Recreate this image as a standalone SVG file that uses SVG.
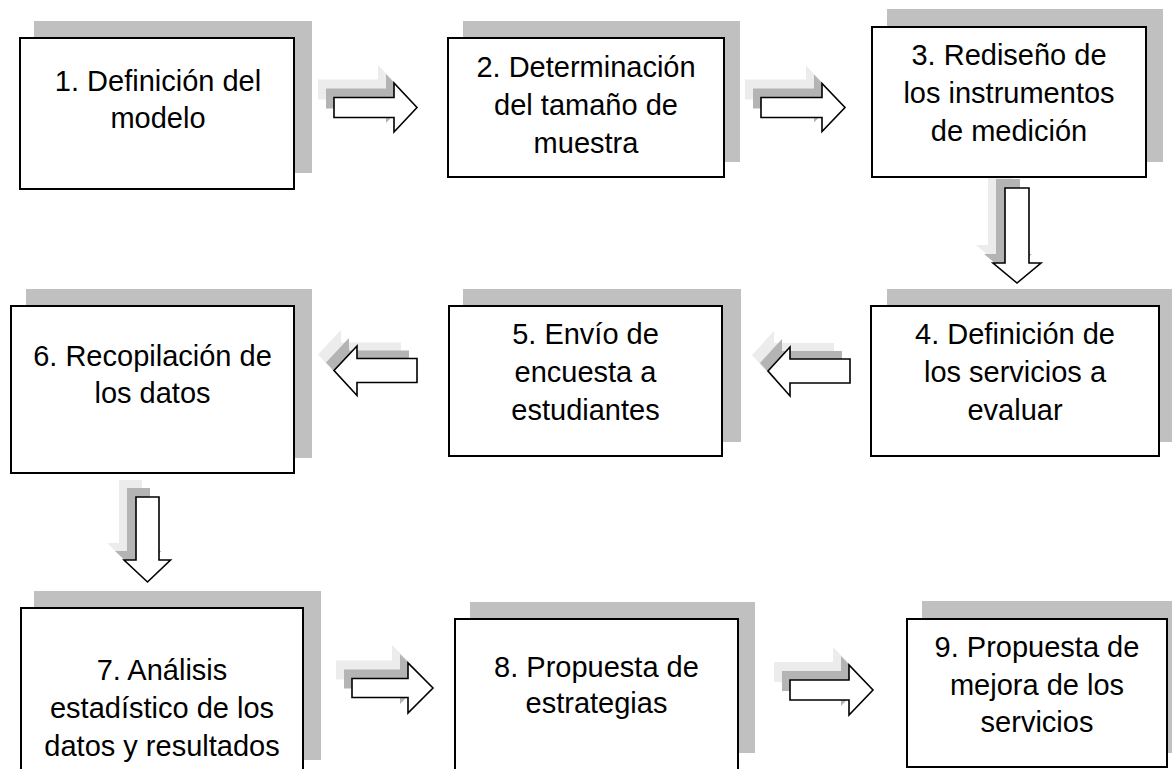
<svg xmlns="http://www.w3.org/2000/svg" xmlns:xlink="http://www.w3.org/1999/xlink" width="1172" height="769" viewBox="0 0 1172 769">
<style>
.shadow{fill:#c0c0c0;stroke:none}
.box{fill:#ffffff;stroke:#000000;stroke-width:2}
.lbl{font-family:"Liberation Sans",Arial,sans-serif;font-size:29px;fill:#000000;text-anchor:middle}
.sh1{fill:#ececec;stroke:none}
.sh2{fill:#b4b4b4;stroke:none}
.arr{fill:#ffffff;stroke:#000000;stroke-width:1.6;stroke-linejoin:miter}
</style>
<defs>
<path id="a1" d="M334,97.5 H394 V83 L417,107.5 L394,132 V117.5 H334 Z"/>
<path id="a2" d="M761,97.5 H822 V83.5 L845,107.5 L822,131.5 V117.5 H761 Z"/>
<path id="d1" d="M1005,188 H1029 V263 H1041 L1017,283 L993,263 H1005 Z"/>
<path id="a5" d="M850,359 H790 V347 L768,371 L790,396 V383 H850 Z"/>
<path id="a6" d="M417,358.5 H357 V346 L334,370.5 L357,395.5 V382.5 H417 Z"/>
<path id="d2" d="M136,497 H159 V560 H170.5 L147.5,582 L124,560 H136 Z"/>
<path id="a7" d="M352,678.5 H408 V663 L433,688 L408,713 V697.5 H352 Z"/>
<path id="a8" d="M790,680 H849 V665 L873,690 L849,715 V700 H790 Z"/>
</defs>
<rect width="1172" height="769" fill="#ffffff"/>
<g id="connectors">
<g id="c1-2"><use xlink:href="#a1" class="sh1" transform="translate(-16,-18)"/><use xlink:href="#a1" class="sh2" transform="translate(-8,-9)"/><use xlink:href="#a1" class="arr"/></g>
<g id="c2-3"><use xlink:href="#a2" class="sh1" transform="translate(-16,-18)"/><use xlink:href="#a2" class="sh2" transform="translate(-8,-9)"/><use xlink:href="#a2" class="arr"/></g>
<g id="c3-4"><use xlink:href="#d1" class="sh1" transform="translate(-17,-18)"/><use xlink:href="#d1" class="sh2" transform="translate(-9,-9)"/><use xlink:href="#d1" class="arr"/></g>
<g id="c4-5"><use xlink:href="#a5" class="sh1" transform="translate(-16,-16)"/><use xlink:href="#a5" class="sh2" transform="translate(-8,-8)"/><use xlink:href="#a5" class="arr"/></g>
<g id="c5-6"><use xlink:href="#a6" class="sh1" transform="translate(-16,-16)"/><use xlink:href="#a6" class="sh2" transform="translate(-8,-8)"/><use xlink:href="#a6" class="arr"/></g>
<g id="c6-7"><use xlink:href="#d2" class="sh1" transform="translate(-17,-17)"/><use xlink:href="#d2" class="sh2" transform="translate(-9,-9)"/><use xlink:href="#d2" class="arr"/></g>
<g id="c7-8"><use xlink:href="#a7" class="sh1" transform="translate(-16,-18)"/><use xlink:href="#a7" class="sh2" transform="translate(-8,-9)"/><use xlink:href="#a7" class="arr"/></g>
<g id="c8-9"><use xlink:href="#a8" class="sh1" transform="translate(-16,-18)"/><use xlink:href="#a8" class="sh2" transform="translate(-8,-9)"/><use xlink:href="#a8" class="arr"/></g>
</g>
<g id="n1">
<rect class="shadow" x="34" y="21" width="278" height="152"/>
<rect class="box" x="20" y="38" width="274" height="151"/>
<text class="lbl" x="158" y="91">1. Definición del</text>
<text class="lbl" x="158" y="128">modelo</text>
</g>
<g id="n2">
<rect class="shadow" x="463" y="21" width="277" height="141"/>
<rect class="box" x="448" y="38" width="276" height="139"/>
<text class="lbl" x="586" y="77">2. Determinación</text>
<text class="lbl" x="586" y="115">del tamaño de</text>
<text class="lbl" x="586" y="153">muestra</text>
</g>
<g id="n3">
<rect class="shadow" x="887" y="9" width="276" height="153"/>
<rect class="box" x="872" y="27" width="274" height="150"/>
<text class="lbl" x="1009" y="65">3. Rediseño de</text>
<text class="lbl" x="1009" y="103">los instrumentos</text>
<text class="lbl" x="1009" y="141">de medición</text>
</g>
<g id="n4">
<rect class="shadow" x="887" y="289" width="290" height="153"/>
<rect class="box" x="871" y="306" width="288" height="150"/>
<text class="lbl" x="1015" y="344">4. Definición de</text>
<text class="lbl" x="1015" y="382">los servicios a</text>
<text class="lbl" x="1015" y="420">evaluar</text>
</g>
<g id="n5">
<rect class="shadow" x="463" y="289" width="278" height="153"/>
<rect class="box" x="449" y="306" width="273" height="150"/>
<text class="lbl" x="585.5" y="344">5. Envío de</text>
<text class="lbl" x="585.5" y="382">encuesta a</text>
<text class="lbl" x="585.5" y="420">estudiantes</text>
</g>
<g id="n6">
<rect class="shadow" x="26" y="289" width="286" height="169"/>
<rect class="box" x="11" y="306" width="283" height="167"/>
<text class="lbl" x="152.5" y="366">6. Recopilación de</text>
<text class="lbl" x="152.5" y="403">los datos</text>
</g>
<g id="n7">
<rect class="shadow" x="34" y="591" width="287" height="169"/>
<rect class="box" x="21" y="608" width="282" height="175"/>
<text class="lbl" x="162" y="680">7. Análisis</text>
<text class="lbl" x="162" y="718">estadístico de los</text>
<text class="lbl" x="162" y="756">datos y resultados</text>
</g>
<g id="n8">
<rect class="shadow" x="470" y="602" width="285" height="151"/>
<rect class="box" x="455" y="619" width="283" height="165"/>
<text class="lbl" x="596.5" y="677">8. Propuesta de</text>
<text class="lbl" x="596.5" y="713">estrategias</text>
</g>
<g id="n9">
<rect class="shadow" x="922" y="601" width="255" height="152"/>
<rect class="box" x="907" y="619" width="260" height="148"/>
<text class="lbl" x="1037" y="657">9. Propuesta de</text>
<text class="lbl" x="1037" y="695">mejora de los</text>
<text class="lbl" x="1037" y="732">servicios</text>
</g>
</svg>
